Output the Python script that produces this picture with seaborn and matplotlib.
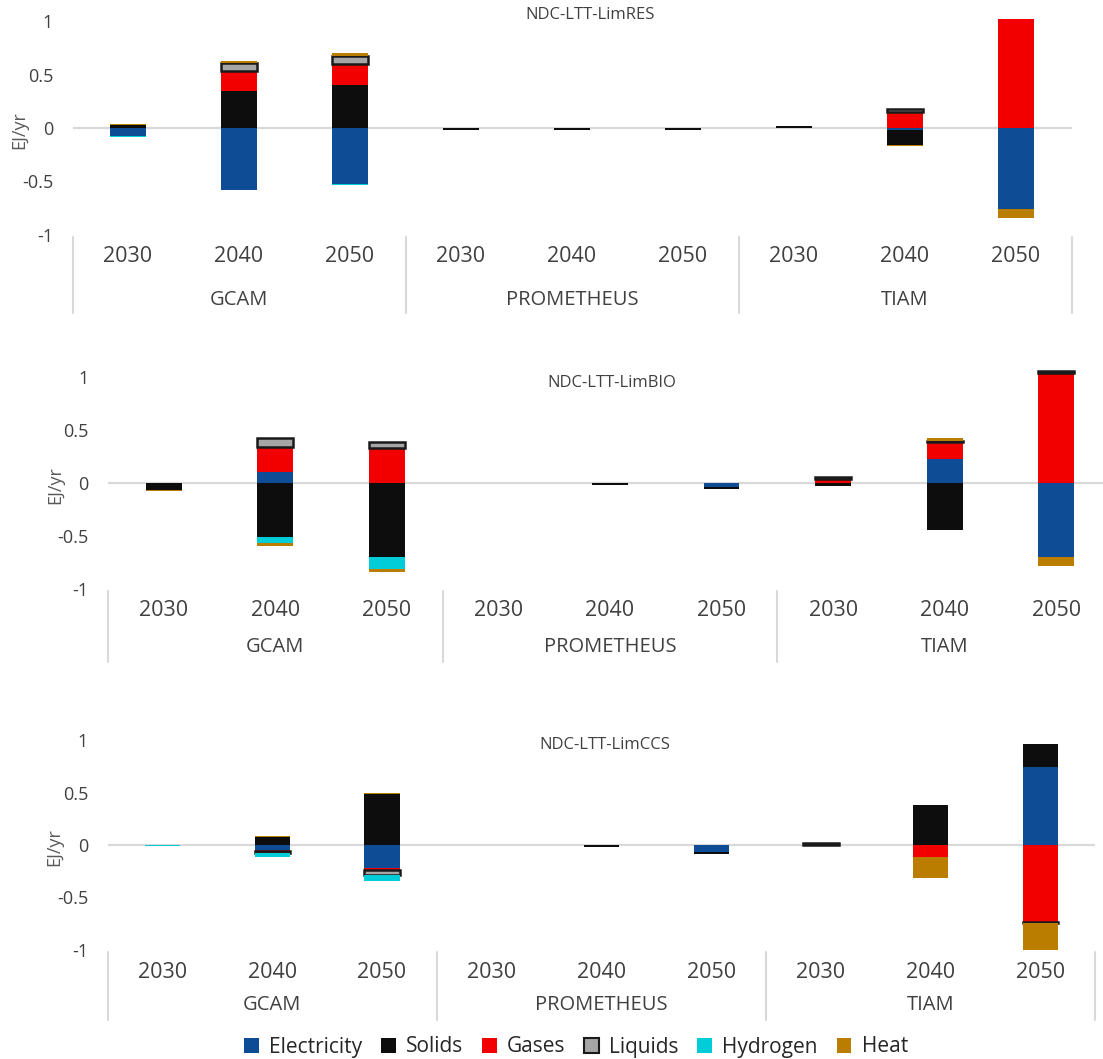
import numpy as np
import pandas as pd
import matplotlib
matplotlib.use("Agg")
import matplotlib.pyplot as plt
from matplotlib.patches import Patch
from matplotlib.transforms import blended_transform_factory
import seaborn as sns

sns.set_theme(style="white")
plt.rcParams["font.family"] = ["Open Sans", "DejaVu Sans"]

# ---- data -------------------------------------------------------------
models = ["GCAM", "PROMETHEUS", "TIAM"]
years = ["2030", "2040", "2050"]
carriers = ["Electricity", "Solids", "Gases", "Liquids", "Hydrogen", "Heat"]
carrier_colors = ["#0F4C96", "#0D0D0D", "#F20000", "#A6A6A6", "#00CDD8", "#BB7D00"]
scenarios = ["NDC-LTT-LimRES", "NDC-LTT-LimBIO", "NDC-LTT-LimCCS"]

# values per carrier, ordered GCAM 2030..2050, PROMETHEUS 2030..2050, TIAM 2030..2050 (EJ/yr)
limres_electricity = [-0.075, -0.575, -0.525, 0, 0, 0, 0, -0.015, -0.76]
limres_solids = [0.03, 0.345, 0.40, -0.02, -0.02, -0.02, 0.02, -0.14, 0]
limres_gases = [0, 0.19, 0.20, 0, 0, 0, 0, 0.15, 1.02]
limres_liquids = [0, 0.07, 0.07, 0, 0, 0, 0, 0.025, 0]
limres_hydrogen = [-0.005, -0.008, -0.008, 0, 0, 0, 0, 0, 0]
limres_heat = [0.01, 0.025, 0.03, 0, 0, 0, 0, -0.01, -0.08]

limbio_electricity = [0, 0.10, 0, 0, 0, -0.035, 0, 0.23, -0.70]
limbio_solids = [-0.065, -0.51, -0.70, 0, -0.02, -0.02, -0.03, -0.44, 0]
limbio_gases = [0, 0.24, 0.33, 0, 0, 0, 0.04, 0.16, 1.04]
limbio_liquids = [0, 0.08, 0.06, 0, 0, 0, 0.02, 0.01, 0.02]
limbio_hydrogen = [0, -0.06, -0.11, 0, 0, 0, 0, 0, 0]
limbio_heat = [-0.01, -0.025, -0.025, 0, 0, 0, 0, 0.02, -0.08]

limccs_electricity = [0, -0.045, -0.22, 0, 0, -0.07, 0, 0, 0.74]
limccs_solids = [0, 0.08, 0.49, 0, -0.02, -0.02, 0, 0.38, 0.22]
limccs_gases = [0, -0.01, -0.02, 0, 0, 0, 0, -0.11, -0.73]
limccs_liquids = [0, -0.02, -0.05, 0, 0, 0, 0.015, 0, -0.01]
limccs_hydrogen = [-0.012, -0.035, -0.05, 0, 0, 0, 0, 0, 0]
limccs_heat = [0, 0.01, 0.01, 0, 0, 0, 0, -0.20, -0.26]

panel_values = [
    [limres_electricity, limres_solids, limres_gases, limres_liquids, limres_hydrogen, limres_heat],
    [limbio_electricity, limbio_solids, limbio_gases, limbio_liquids, limbio_hydrogen, limbio_heat],
    [limccs_electricity, limccs_solids, limccs_gases, limccs_liquids, limccs_hydrogen, limccs_heat],
]

categories = [f"{m} {y}" for m in models for y in years]

# ---- layout (pixels) --------------------------------------------------
W, H = 1103, 1059
fig = plt.figure(figsize=(W / 100, H / 100), dpi=100)

# x-left, x-right, pixel row of zero, pixels per EJ, year row, model row, separator end, title centre
layout = [
    dict(x0=72.5, x1=1071.5, zero=128, ppu=107, yr=257, md=300, sep=313, tx=590, ty=15),
    dict(x0=108, x1=1112, zero=483, ppu=106, yr=611, md=647, sep=662, tx=612, ty=383),
    dict(x0=107.6, x1=1095.4, zero=845, ppu=105, yr=972, md=1005, sep=1020, tx=605, ty=745),
]
YMIN, YMAX = -1.0, 1.08
TXT = "#404040"
GRID = "#D9D9D9"


def fy(py):
    return 1 - py / H


for lay, values, title in zip(layout, panel_values, scenarios):
    bottom_px = lay["zero"] + lay["ppu"] * (-YMIN)
    top_px = lay["zero"] - lay["ppu"] * YMAX
    ax = fig.add_axes([lay["x0"] / W, fy(bottom_px), (lay["x1"] - lay["x0"]) / W,
                       (bottom_px - top_px) / H])

    ax.axhline(0, color=GRID, lw=1.6, zorder=0.5)

    pos_base = np.zeros(len(categories))
    neg_base = np.zeros(len(categories))
    for name, color, vals in zip(carriers, carrier_colors, values):
        vals = np.asarray(vals, dtype=float)
        is_liq = name == "Liquids"
        for sign in (1, -1):
            mask = vals > 0 if sign > 0 else vals < 0
            base = pos_base if sign > 0 else neg_base
            if mask.any():
                sub = pd.DataFrame({"cat": np.array(categories)[mask], "val": vals[mask]})
                sns.barplot(data=sub, x="cat", y="val", order=categories, color=color,
                            saturation=1, width=0.32, errorbar=None,
                            bottom=base[mask],
                            edgecolor="#1A1A1A" if is_liq else color,
                            linewidth=1.8 if is_liq else 0,
                            ax=ax, zorder=2)
            base[mask] += vals[mask]

    ax.set_xlim(-0.5, len(categories) - 0.5)
    ax.set_ylim(YMIN, YMAX)
    ax.set_yticks([-1, -0.5, 0, 0.5, 1])
    ax.set_yticklabels(["-1", "-0.5", "0", "0.5", "1"])
    ax.tick_params(axis="y", length=0, pad=14, labelsize=13, labelcolor=TXT)
    ax.set_xticks([])
    ax.set_xlabel("")
    ax.set_ylabel("")
    for s in ax.spines.values():
        s.set_visible(False)
    ax.patch.set_alpha(0)

    # y-axis caption
    fig.text((lay["x0"] - 53) / W, fy(lay["zero"] + 2), "EJ/yr", rotation=90,
             ha="center", va="center", fontsize=13, color="#595959")

    # panel title
    fig.text(lay["tx"] / W, fy(lay["ty"]), title, ha="center", va="center",
             fontsize=12, color=TXT)

    # two-level category axis
    tr = blended_transform_factory(ax.transData, fig.transFigure)
    for i, cat in enumerate(categories):
        ax.text(i, fy(lay["yr"]), cat.split()[1], transform=tr, ha="center",
                va="center", fontsize=15.5, color=TXT, clip_on=False)
    for g, model in enumerate(models):
        ax.text(g * 3 + 1, fy(lay["md"]), model, transform=tr, ha="center",
                va="center", fontsize=14.5, color=TXT, clip_on=False)
    for b in range(0, len(categories) + 1, 3):
        ax.plot([b - 0.5, b - 0.5], [fy(bottom_px + 2), fy(lay["sep"])], transform=tr,
                color=GRID, lw=1.5, clip_on=False)

# ---- legend -----------------------------------------------------------
handles = [Patch(facecolor=c, edgecolor="#1A1A1A" if n == "Liquids" else c,
                 linewidth=1.5 if n == "Liquids" else 0, label=n)
           for n, c in zip(carriers, carrier_colors)]
fig.legend(handles=handles, loc="center", bbox_to_anchor=(576 / W, fy(1047)),
           ncol=6, frameon=False, fontsize=15, handlelength=0.7, handleheight=0.7,
           handletextpad=0.5, columnspacing=0.9, labelcolor="#262626")

fig.savefig("out.png", dpi=100, facecolor="white")
